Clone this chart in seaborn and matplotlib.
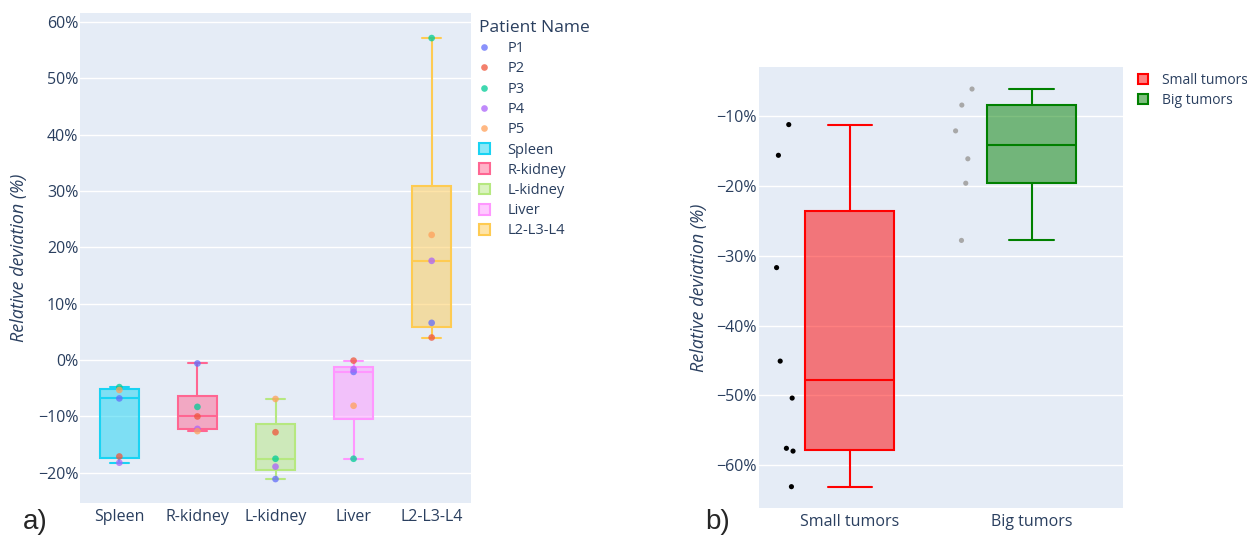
import numpy as np
import pandas as pd
import matplotlib
matplotlib.use('Agg')
import matplotlib.pyplot as plt
import matplotlib.colors as mcolors
import seaborn as sns
from matplotlib.lines import Line2D
from matplotlib.patches import Patch
from matplotlib.ticker import PercentFormatter

# panel a) relative deviation (%) per organ, one value per patient (P1..P5)
organs = ['Spleen', 'R-kidney', 'L-kidney', 'Liver', 'L2-L3-L4']
patients = ['P1', 'P2', 'P3', 'P4', 'P5']
spleen = [-6.8, -17.1, -4.8, -18.2, -5.3]
r_kidney = [-0.6, -10.0, -8.3, -12.2, -12.6]
l_kidney = [-21.1, -12.8, -17.5, -18.9, -6.9]
liver = [-2.1, -0.1, -17.5, -1.6, -8.1]
l2_l3_l4 = [6.6, 4.0, 57.1, 17.6, 22.2]

# panel b) relative deviation (%) per tumor
tumor_groups = ['Small tumors', 'Big tumors']
small_tumors = [-11.2, -15.6, -31.7, -45.1, -50.4, -58.0, -57.6, -63.1]
big_tumors = [-6.1, -8.4, -12.1, -16.1, -19.6, -27.8]

patient_colors = ['#636EFA', '#EF553B', '#00CC96', '#AB63FA', '#FFA15A']
organ_colors = ['#19D3F3', '#FF6692', '#B6E880', '#FF97FF', '#FECB52']
tumor_colors = ['red', 'green']
tumor_point_colors = ['black', '#A8A8A8']

BG = '#E5ECF6'
TXT = '#2a3f5f'

sns.set_theme(style='darkgrid', rc={'axes.facecolor': BG, 'grid.color': 'white',
                                    'grid.linewidth': 1.0, 'axes.edgecolor': BG})
plt.rcParams['font.family'] = ['Open Sans', 'DejaVu Sans']
np.random.seed(3)


def plotly_box_stats(vals):
    # plotly "linear" quartiles == numpy hazen, whiskers to last point within 1.5 IQR
    v = np.sort(np.asarray(vals, dtype=float))
    q1, med, q3 = np.percentile(v, [25, 50, 75], method='hazen')
    iqr = q3 - q1
    lo = v[v >= q1 - 1.5 * iqr].min()
    hi = v[v <= q3 + 1.5 * iqr].max()
    return dict(med=med, q1=q1, q3=q3, whislo=lo, whishi=hi, fliers=[])


def draw_boxes(ax, groups, colors, width):
    for i, (g, c) in enumerate(zip(groups, colors)):
        ax.bxp([plotly_box_stats(g)], positions=[i], widths=width, capwidths=width / 2,
               patch_artist=True, showfliers=False, manage_ticks=False, zorder=2,
               boxprops=dict(facecolor=mcolors.to_rgba(c, 0.5), edgecolor=c, linewidth=1.5),
               medianprops=dict(color=c, linewidth=1.5),
               whiskerprops=dict(color=c, linewidth=1.5),
               capprops=dict(color=c, linewidth=1.5))


def style_axes(ax, ylim, xlim):
    ax.set_xlim(*xlim)
    ax.set_ylim(*ylim)
    ax.set_xlabel('')
    ax.yaxis.set_major_formatter(PercentFormatter(xmax=100, decimals=0))
    ax.grid(False, axis='x')
    ax.grid(True, axis='y', color='white', linewidth=1.0)
    for s in ax.spines.values():
        s.set_visible(False)
    ax.tick_params(axis='both', length=0, labelsize=11.5, labelcolor=TXT)
    ax.tick_params(axis='x', pad=4)
    ax.tick_params(axis='y', pad=1.5)


fig = plt.figure(figsize=(12.47, 5.37), dpi=100)
ax1 = fig.add_axes([80.3 / 1247, 1 - 503.3 / 537, 390.4 / 1247, 490.6 / 537])
ax2 = fig.add_axes([759 / 1247, 1 - 508.3 / 537, 363.7 / 1247, 441.6 / 537])

# ---- panel a
organ_values = [spleen, r_kidney, l_kidney, liver, l2_l3_l4]
df_org = pd.DataFrame({
    'organ': np.repeat(organs, len(patients)),
    'patient': patients * len(organs),
    'value': np.concatenate(organ_values),
})
sns.stripplot(data=df_org, x='organ', y='value', hue='patient', palette=patient_colors,
              order=organs, jitter=False, size=4.8, alpha=0.75, linewidth=0,
              legend=False, ax=ax1, zorder=3)
draw_boxes(ax1, organ_values, organ_colors, 0.5)
style_axes(ax1, (-25.4, 61.6), (-0.5, len(organs) - 0.5))
ax1.set_xticks(range(len(organs)))
ax1.set_xticklabels(organs)
ax1.set_yticks(np.arange(-20, 61, 10))
ax1.set_ylabel('Relative deviation (%)', fontsize=13, color=TXT, style='italic')
ax1.yaxis.set_label_coords(-0.135, 0.5)

# ---- panel b
df_tum = pd.DataFrame({
    'group': ['Small tumors'] * len(small_tumors) + ['Big tumors'] * len(big_tumors),
    'value': small_tumors + big_tumors,
})
sns.stripplot(data=df_tum, x='group', y='value', hue='group', palette=tumor_point_colors,
              order=tumor_groups, jitter=0.06, size=3.7, linewidth=0,
              legend=False, ax=ax2, zorder=3)
# points sit to the left of each box
for coll in ax2.collections:
    coll.set_offsets(coll.get_offsets() + np.array([-0.37, 0]))
draw_boxes(ax2, [small_tumors, big_tumors], tumor_colors, 0.49)
style_axes(ax2, (-66.2, -2.9), (-0.5, 1.5))
ax2.set_xticks(range(len(tumor_groups)))
ax2.set_xticklabels(tumor_groups)
ax2.set_yticks(np.arange(-60, -9, 10))
ax2.set_ylabel('Relative deviation (%)', fontsize=13, color=TXT, style='italic')
ax2.yaxis.set_label_coords(-0.14, 0.5)

# ---- legends
h1 = [Line2D([], [], marker='o', ls='', color=c, markersize=4.8, alpha=0.75, markeredgewidth=0)
      for c in patient_colors]
h1 += [Patch(facecolor=mcolors.to_rgba(c, 0.5), edgecolor=c, linewidth=1.5) for c in organ_colors]
leg1 = fig.legend(h1, patients + organs, title='Patient Name', loc='upper left',
                  bbox_to_anchor=(479 / 1247, 1 - 20 / 537), frameon=False, fontsize=10.5,
                  title_fontsize=12.5, alignment='left', handlelength=0.75, handleheight=0.75,
                  handletextpad=1.2, labelspacing=0.36, borderaxespad=0, borderpad=0,
                  labelcolor=TXT)
leg1.get_title().set_color(TXT)

h2 = [Patch(facecolor=mcolors.to_rgba(c, 0.5), edgecolor=c, linewidth=1.5) for c in tumor_colors]
fig.legend(h2, tumor_groups, loc='upper left', bbox_to_anchor=(1138 / 1247, 1 - 73 / 537),
           frameon=False, fontsize=10, handlelength=0.75, handleheight=0.75,
           handletextpad=1.0, labelspacing=0.35, borderaxespad=0, borderpad=0,
           labelcolor=TXT)

# panel letters
fig.text(23 / 1247, 1 - 522 / 537, 'a)', fontsize=20, family='Liberation Sans', va='center')
fig.text(705 / 1247, 1 - 522 / 537, 'b)', fontsize=20, family='Liberation Sans', va='center')

fig.savefig('out.png', dpi=100)
